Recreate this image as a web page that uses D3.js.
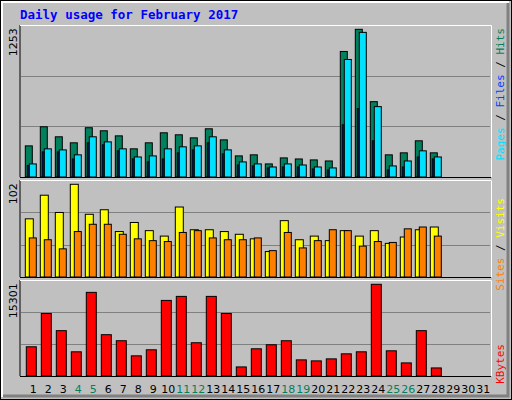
<!DOCTYPE html>
<html><head><meta charset="utf-8">
<script src="https://cdn.jsdelivr.net/npm/d3@7"></script>
<style>body{margin:0;background:#fff}</style>
</head><body><svg id="c" width="512" height="400"></svg>
<script>
/* Data */
const days = d3.range(1, 32);
const weekends = [4, 5, 11, 12, 18, 19, 25, 26];
const hits = [264,426,341,290,418,392,349,239,290,375,358,332,409,315,179,188,111,162,153,145,136,1065,1253,639,188,205,307,205];
const pages = [111,239,230,188,341,298,239,170,179,239,256,264,341,230,128,111,85,111,102,85,77,997,1227,597,94,136,222,170];
const files = [97,213,213,153,290,273,222,153,128,153,205,230,290,196,102,94,77,85,85,68,60,443,580,307,60,85,170,153];
const visits = [64,90,71,102,69,74,50,60,51,45,77,52,52,50,47,42,28,62,41,45,40,51,45,51,37,44,52,55];
const sites = [43,41,31,50,58,58,47,42,40,39,49,51,43,41,41,43,29,49,32,40,52,51,34,39,38,53,55,45];
const kbytes = [4876,10425,7567,4036,13956,6894,5885,3363,4372,12611,13284,5549,13284,10425,1513,4540,5213,5885,2690,2522,2858,3699,4036,15301,4204,2186,7567,1345];

const svg = d3.select('#c');
const mono = 'DejaVu Sans Mono', sans = 'DejaVu Sans';

// frame with bevel
svg.append('rect').attr('x', 0.5).attr('y', 0.5).attr('width', 511).attr('height', 399)
  .attr('fill', '#c0c0c0').attr('stroke', '#000');
svg.append('path').attr('d', 'M2,397V2H509').attr('stroke', '#fff').attr('stroke-width', 2).attr('fill', 'none');
svg.append('path').attr('d', 'M3,396H508V3').attr('stroke', '#808080').attr('stroke-width', 3).attr('fill', 'none');

svg.append('text').attr('x', 20).attr('y', 19).attr('fill', '#0000ff')
  .attr('font-family', mono).attr('font-weight', 'bold').attr('font-size', 12.5)
  .text('Daily usage for February 2017');

const x = d3.scaleLinear().domain([1, 2]).range([25.3, 40.3]);

function panel(y0, y1, max, yTop) {
  svg.append('rect').attr('x', 20).attr('y', y0).attr('width', 471).attr('height', y1 - y0).attr('fill', '#c0c0c0');
  svg.append('path').attr('d', `M20,${y1}V${y0}`).attr('stroke', '#000').attr('fill', 'none');
  svg.append('path').attr('d', `M20,${y0 + 0.5}H491.5V${y1}`).attr('stroke', '#fff').attr('fill', 'none');
  svg.append('path').attr('d', `M20,${y1 + 0.5}H491`).attr('stroke', '#000').attr('fill', 'none');
  const y = d3.scaleLinear().domain([0, max]).range([y1, yTop]);
  const g = (y1 - y0) / 3;
  [1, 2].forEach(k => svg.append('line').attr('x1', 21).attr('x2', 490)
    .attr('y1', Math.round(y1 - g * k) + 0.5).attr('y2', Math.round(y1 - g * k) + 0.5)
    .attr('stroke', '#808080'));
  svg.append('text').attr('transform', `translate(17,${yTop - 1}) rotate(-90)`).attr('text-anchor', 'end')
    .attr('font-family', sans).attr('font-size', 11).text(max);
  return y;
}

function bars(y, data, dx, w, color) {
  svg.append('g').selectAll('rect').data(data).join('rect')
    .attr('x', (d, i) => x(i + 1) + dx).attr('width', w)
    .attr('y', d => y(d)).attr('height', d => y(0) - y(d))
    .attr('fill', color).attr('stroke', '#000').attr('stroke-width', 1);
}

function legend(yEnd, parts) {
  const t = svg.append('text').attr('transform', `translate(504,${yEnd}) rotate(-90)`).attr('text-anchor', 'end')
    .attr('font-family', mono).attr('font-size', 11);
  parts.forEach(([s, c]) => t.append('tspan').attr('fill', c).text(s));
}

const y1 = panel(25, 177, 1253, 29.3);
bars(y1, hits, 0, 7, '#00805c');
bars(y1, pages, 4, 7, '#00e0ff');
bars(y1, files, 2, 1.5, '#0040ff');
legend(28, [['Pages', '#00e0ff'], [' / ', '#000'], ['Files', '#0040ff'], [' / ', '#000'], ['Hits', '#00805c']]);

const y2 = panel(180, 277, 102, 184.3);
bars(y2, visits, 0, 8, '#ffff00');
bars(y2, sites, 4, 7, '#ff8000');
legend(198, [['Sites', '#ff8000'], [' / ', '#000'], ['Visits', '#ffff00']]);

const y3 = panel(280, 376, 15301, 284.3);
bars(y3, kbytes, 1, 10, '#ff0000');
legend(344, [['KBytes', '#ff0000']]);

svg.append('g').selectAll('text').data(days).join('text')
  .attr('x', d => x(d) + 8).attr('y', 393).attr('text-anchor', 'middle')
  .attr('font-family', sans).attr('font-size', 11)
  .attr('fill', d => weekends.includes(d) ? '#00805c' : '#000')
  .text(d => d);
</script></body></html>
